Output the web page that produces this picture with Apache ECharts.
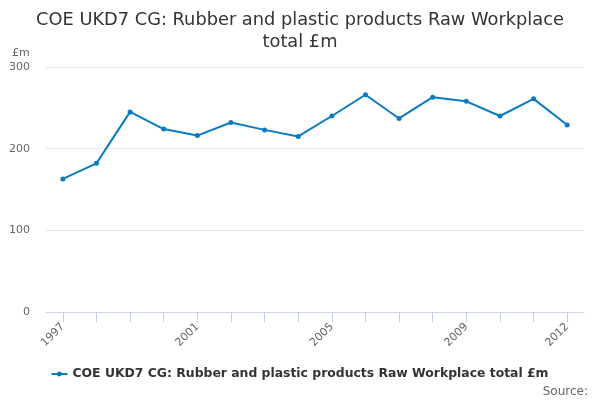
<!DOCTYPE html>
<html>
<head>
<meta charset="utf-8">
<script src="https://cdn.jsdelivr.net/npm/echarts@6/dist/echarts.min.js"></script>
<style>
  html, body { margin: 0; padding: 0; background: #fff; }
  #chart { width: 600px; height: 400px; }
</style>
</head>
<body>
<div id="chart"></div>
<script>
// years on the x axis
var years = ['1997', '1998', '1999', '2000', '2001', '2002', '2003', '2004',
             '2005', '2006', '2007', '2008', '2009', '2010', '2011', '2012'];
// £m values
var totals = [163, 182, 245, 224, 216, 232, 223, 215,
              240, 266, 237, 263, 258, 240, 261, 229];
// y axis ticks
var yTicks = [0, 100, 200, 300];
var seriesName = 'COE UKD7 CG: Rubber and plastic products Raw Workplace total £m';

var myChart = echarts.init(document.getElementById('chart'));

var option = {
    animation: false,
    textStyle: { fontFamily: 'DejaVu Sans' },
    title: {
        text: 'COE UKD7 CG: Rubber and plastic products Raw Workplace\ntotal £m',
        left: 'center',
        top: 4,
        textStyle: { fontSize: 17.8, fontWeight: 'normal', color: '#333', lineHeight: 22, fontFamily: 'DejaVu Sans' }
    },
    legend: {
        data: [seriesName],
        bottom: 15,
        left: 'center',
        itemWidth: 16,
        itemHeight: 6,
        // short line with a dot in the middle
        icon: 'path://M0,2 L16,2 L16,4 L0,4 Z M8,0.5 A2.5,2.5 0 1 1 7.99,0.5 Z',
        textStyle: { fontSize: 12.4, fontWeight: 'bold', color: '#333' }
    },
    graphic: [{
        type: 'text',
        right: 12,
        bottom: 2,
        style: { text: 'Source:', fontSize: 12, fill: '#666', fontFamily: 'DejaVu Sans' }
    }],
    grid: { left: 46, right: 16, top: 67, bottom: 88, containLabel: false },
    xAxis: {
        type: 'category',
        data: years,
        boundaryGap: true,
        axisLine: { show: true, lineStyle: { color: '#ccd6eb' } },
        axisTick: { show: true, alignWithLabel: true, interval: 0, length: 10, lineStyle: { color: '#c4cfe6', width: 1 } },
        axisLabel: {
            rotate: 45,
            margin: 13,
            color: '#666',
            fontSize: 11,
            interval: function (i) { return i % 4 === 0 || i === years.length - 1; }
        }
    },
    yAxis: {
        type: 'value',
        name: '£m',
        nameLocation: 'end',
        nameGap: 8,
        nameTextStyle: { color: '#666', fontSize: 11, align: 'left', padding: [0, 0, 0, -34] },
        min: yTicks[0],
        max: yTicks[yTicks.length - 1],
        interval: 100,
        axisLine: { show: false },
        axisTick: { show: false },
        axisLabel: { color: '#666', fontSize: 11, margin: 16 },
        splitLine: { lineStyle: { color: '#e6e6e6' } }
    },
    series: [{
        name: seriesName,
        type: 'line',
        data: totals,
        symbol: 'circle',
        symbolSize: 5,
        itemStyle: { color: '#0a7bc3' },
        lineStyle: { width: 2, color: '#0a7bc3' }
    }]
};

myChart.setOption(option);
</script>
</body>
</html>
